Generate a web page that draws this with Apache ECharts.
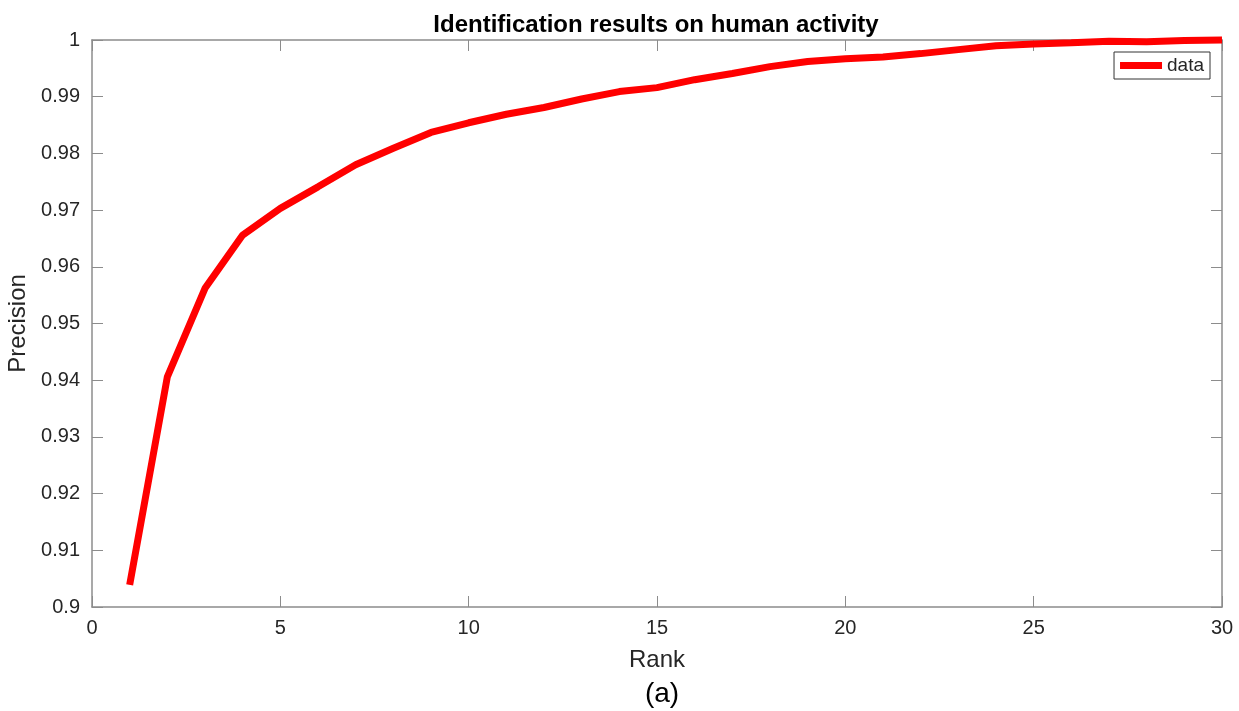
<!DOCTYPE html>
<html>
<head>
<meta charset="utf-8">
<script src="https://cdn.jsdelivr.net/npm/echarts@6/dist/echarts.min.js"></script>
<style>
  html, body { margin: 0; padding: 0; background: #fff; }
  #chart { width: 1239px; height: 711px; }
</style>
</head>
<body>
<div id="chart"></div>
<script>
var ranks = [1, 2, 3, 4, 5, 6, 7, 8, 9, 10, 11, 12, 13, 14, 15, 16, 17, 18, 19, 20, 21, 22, 23, 24, 25, 26, 27, 28, 29, 30]
var precision = [0.9039, 0.9406, 0.9562, 0.9656, 0.9703, 0.9741, 0.978, 0.9809, 0.9837, 0.9854, 0.9869, 0.9881, 0.9896, 0.9909, 0.9916, 0.993, 0.9941, 0.9953, 0.9962, 0.9967, 0.997, 0.9976, 0.9983, 0.999, 0.9993, 0.9995, 0.9998, 0.9997, 0.9999, 1.0]
var xTicks = [0, 5, 10, 15, 20, 25, 30]
var yTicks = [0.9, 0.91, 0.92, 0.93, 0.94, 0.95, 0.96, 0.97, 0.98, 0.99, 1]

var font = 'Liberation Sans, Arial, sans-serif'
var axisGrey = '#8c8c8c'
var labelColor = '#262626'

var chart = echarts.init(document.getElementById('chart'))

function boxAxis (pos, ticks, show) {
  return {
    type: 'value',
    position: pos,
    min: ticks[0],
    max: ticks[ticks.length - 1],
    interval: +(ticks[1] - ticks[0]).toFixed(4),
    axisLine: { show: true, onZero: false, lineStyle: { color: axisGrey, width: 1.5 } },
    axisTick: { show: true, inside: true, length: 11, lineStyle: { color: axisGrey, width: 1 } },
    axisLabel: { show: show },
    splitLine: { show: false }
  }
}

var xBottom = boxAxis('bottom', xTicks, true)
xBottom.name = 'Rank'
xBottom.nameLocation = 'middle'
xBottom.nameGap = 41
xBottom.nameTextStyle = { fontFamily: font, fontSize: 24, color: labelColor }
xBottom.axisLabel = { show: true, fontFamily: font, fontSize: 20, color: labelColor, margin: 11 }

var xTop = boxAxis('top', xTicks, false)

var yLeft = boxAxis('left', yTicks, true)
yLeft.name = 'Precision'
yLeft.nameLocation = 'middle'
yLeft.nameGap = 59
yLeft.nameTextStyle = { fontFamily: font, fontSize: 24, color: labelColor }
yLeft.axisLabel = {
  show: true, fontFamily: font, fontSize: 20, color: labelColor, margin: 12,
  formatter: function (v) { return String(+v.toFixed(2)) }
}

var yRight = boxAxis('right', yTicks, false)

chart.setOption({
  animation: false,
  backgroundColor: '#fff',
  title: [
    {
      text: 'Identification results on human activity',
      left: 651, top: 8, textAlign: 'center',
      textStyle: { fontFamily: font, fontSize: 24, fontWeight: 'bold', color: '#000' }
    },
    {
      text: '(a)',
      left: 657, top: 675, textAlign: 'center',
      textStyle: { fontFamily: font, fontSize: 28, fontWeight: 'normal', color: '#000' }
    }
  ],
  legend: {
    data: ['data'],
    right: 29, top: 52,
    orient: 'vertical',
    borderColor: '#333',
    borderWidth: 1,
    borderRadius: 0,
    backgroundColor: '#fff',
    padding: [4, 6, 4, 6],
    itemWidth: 42,
    itemHeight: 7,
    itemGap: 4,
    icon: 'rect',
    textStyle: { fontFamily: font, fontSize: 19, color: labelColor }
  },
  grid: { left: 92, right: 17, top: 40, bottom: 104, containLabel: false, outerBoundsMode: 'none' },
  xAxis: [xBottom, xTop],
  yAxis: [yLeft, yRight],
  series: [{
    name: 'data',
    type: 'line',
    xAxisIndex: 0,
    yAxisIndex: 0,
    data: ranks.map(function (r, i) { return [r, precision[i]] }),
    showSymbol: false,
    clip: false,
    lineStyle: { color: '#ff0000', width: 7 },
    itemStyle: { color: '#ff0000' }
  }]
})
</script>
</body>
</html>
